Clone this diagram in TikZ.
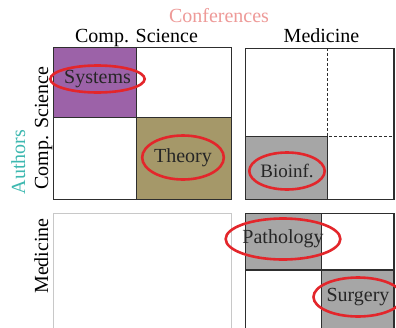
\documentclass[tikz,border=0pt]{standalone}
\usepackage{fontspec}
\setmainfont{Liberation Serif}
\usetikzlibrary{shapes.geometric}
\definecolor{sysfill}{HTML}{9C62A8}
\definecolor{thyfill}{HTML}{A59869}
\definecolor{cellgray}{HTML}{A6A6A6}
\definecolor{ringred}{HTML}{E3262B}
\definecolor{confcol}{HTML}{EE9A98}
\definecolor{authcol}{HTML}{3DB8B0}
\definecolor{gridcol}{HTML}{2E2E2E}
\definecolor{faintcol}{HTML}{C8C8C8}
\tikzset{
  grid/.style={draw=gridcol, line width=1.2pt},
  faint/.style={draw=faintcol, line width=1pt},
  dashgrid/.style={draw=gridcol, line width=1.1pt, dash pattern=on 3pt off 2pt},
  ring/.style={ellipse, draw=ringred, line width=2.6pt, inner sep=0pt, text=black!85},
  heading/.style={font=\fontsize{20}{24}\selectfont, inner sep=0pt, anchor=base},
}
\begin{document}
\begin{tikzpicture}[x=1pt, y=-1pt]
\useasboundingbox (0,0) rectangle (396,327);
\clip (0,0) rectangle (396,327);
\fill[white] (0,0) rectangle (396,327);

% headings
\node[heading, text=confcol] (conf) at (219,22) {Conferences};
\node[heading] (colcs) at (136.5,42) {Comp. Science};
\node[heading] (colmed) at (321.5,42) {Medicine};
\node[heading, text=authcol, rotate=90] (auth) at (25,162) {Authors};
\node[heading, rotate=90] (rowcs) at (48,128) {Comp. Science};
\node[heading, rotate=90] (rowmed) at (48,256) {Medicine};

% CS authors / CS conferences
\fill[sysfill] (53.3,47.7) rectangle (136.7,117.3);
\fill[thyfill] (136.7,117.3) rectangle (231.7,199.7);
\draw[grid] (53.3,47.7) rectangle (231.7,199.7);
\draw[grid] (136.7,47.7) -- (136.7,199.7);
\draw[grid] (53.3,117.3) -- (231.7,117.3);

% CS authors / Medicine conferences
\fill[cellgray] (245.7,136.7) rectangle (327.7,199.7);
\draw[grid] (245.7,48.3) rectangle (394,199.7);
\draw[grid] (245.7,136.7) -- (327.7,136.7) -- (327.7,199.7);
\draw[dashgrid] (327.7,48.3) -- (327.7,136.7) -- (394,136.7);

% Medicine authors / CS conferences
\draw[faint] (53.3,213.7) rectangle (231.7,340);

% Medicine authors / Medicine conferences
\fill[cellgray] (245.7,213.3) rectangle (321.7,270);
\fill[cellgray] (321.7,270) rectangle (394,340);
\draw[grid] (245.7,213.3) rectangle (394,340);
\draw[grid] (321.7,213.3) -- (321.7,340);
\draw[grid] (245.7,270) -- (394,270);

% highlighted communities
\node[ring, minimum width=80pt, minimum height=27pt, font=\fontsize{20}{24}\selectfont] (sys) at (97.5,79) {Systems};
\node[ring, minimum width=73pt, minimum height=44pt, font=\fontsize{20}{24}\selectfont] (thy) at (183,157.5) {Theory};
\node[ring, minimum width=59pt, minimum height=37pt, font=\fontsize{19}{24}\selectfont] (bio) at (287,171) {Bioinf.};
\node[ring, minimum width=93pt, minimum height=41pt, font=\fontsize{20}{24}\selectfont] (path) at (283,239) {Pathology};
\node[ring, minimum width=73pt, minimum height=39pt, font=\fontsize{20}{24}\selectfont] (surg) at (358,297) {Surgery};
\end{tikzpicture}
\end{document}
